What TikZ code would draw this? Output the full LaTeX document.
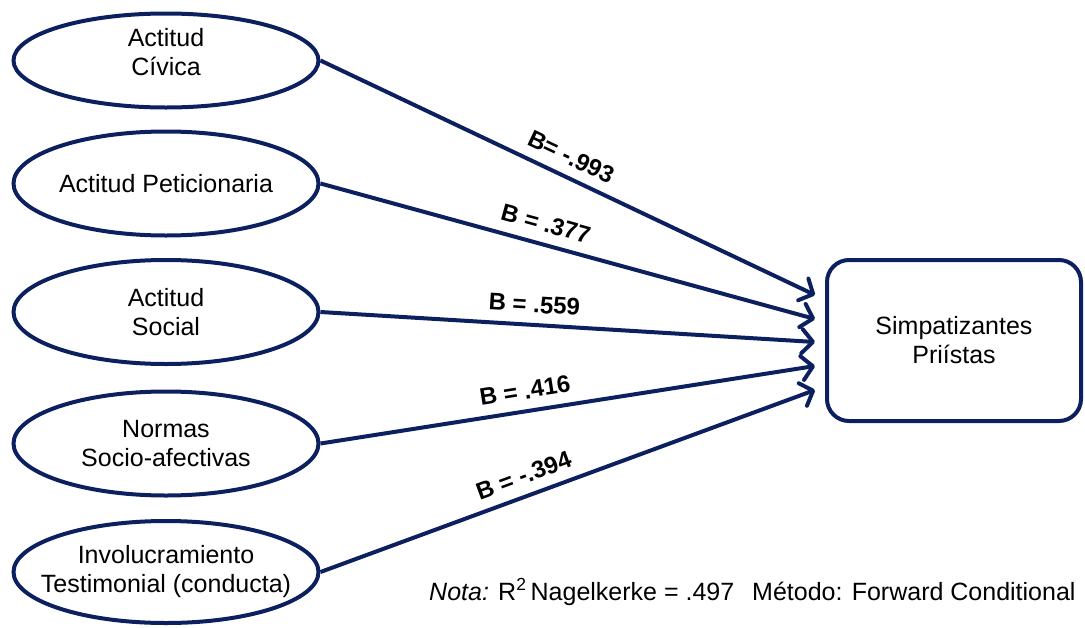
\documentclass[tikz,border=0pt]{standalone}
\usepackage{fontspec}
\setmainfont{Liberation Sans}
\usetikzlibrary{shapes.geometric,arrows.meta}
\definecolor{navy}{RGB}{12,32,96}
\begin{document}
\begin{tikzpicture}[x=1pt,y=-1pt,
  txt/.style={font=\fontsize{25}{29}\selectfont},
  oval/.style={ellipse,draw=navy,line width=4pt,minimum width=305pt,inner ysep=0pt,inner xsep=-60pt,align=center,txt},
  target/.style={rectangle,rounded corners=22pt,draw=navy,line width=4pt,minimum width=254pt,minimum height=161pt,align=center,txt},
  conn/.style={draw=navy,line width=4pt,-{Straight Barb[length=11pt,width=24pt,round]}},
  coef/.style={sloped,above=10pt,inner sep=0pt,font=\bfseries\fontsize{24}{29}\selectfont}]
\useasboundingbox (0,0) rectangle (1085,627);

\node[oval,minimum height=94pt,text depth=18pt] (e1) at (166,60.5) {Actitud\\Cívica};
\node[oval,minimum height=104pt] (e2) at (166,183.5) {Actitud Peticionaria};
\node[oval,minimum height=104pt] (e3) at (166,312) {Actitud\\Social};
\node[oval,minimum height=104pt] (e4) at (166,443.5) {Normas\\Socio-afectivas};
\node[oval,minimum height=102pt] (e5) at (166,572) {Involucramiento\\Testimonial (conducta)};

\node[target] (r) at (954,340.5) {Simpatizantes\\Priístas};

\coordinate (t1) at (815,295);
\coordinate (t2) at (815,319);
\coordinate (t3) at (815,342);
\coordinate (t4) at (815,366);
\coordinate (t5) at (815,390);

\draw[conn] (e1.east) -- node[coef,pos=.49]{B= -.993} (t1);
\draw[conn] (e2.east) -- node[coef,pos=.445]{B = .377} (t2);
\draw[conn] (e3.east) -- node[coef,pos=.43]{B = .559} (t3);
\draw[conn] (e4.east) -- node[coef,pos=.42]{B = .416} (t4);
\draw[conn] (e5.east) -- node[coef,pos=.425]{B = -.394} (t5);

\node[txt,anchor=base west,inner sep=0pt] (nota) at (429,600) {\textit{Nota:} R\textsuperscript{2}\,Nagelkerke = .497\hspace{18pt}Método: Forward Conditional};
\end{tikzpicture}
\end{document}
